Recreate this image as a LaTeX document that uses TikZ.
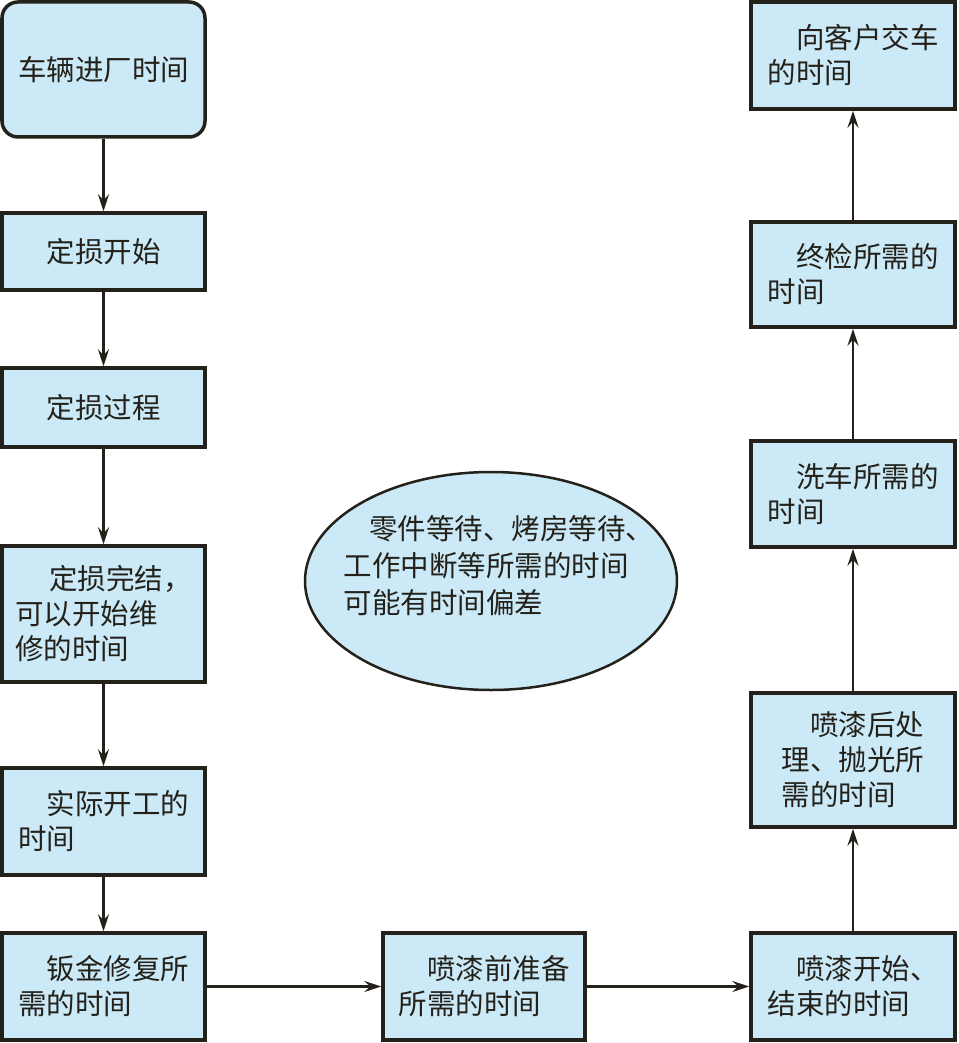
\documentclass[tikz,border=0pt]{standalone}
\usepackage{fontspec}
\newfontfamily\cjk{Noto Sans CJK SC}
\usetikzlibrary{arrows.meta,shapes.geometric}
\definecolor{boxfill}{RGB}{203,233,246}
\definecolor{ink}{RGB}{35,33,25}
\tikzset{
  box/.style={draw=ink,line width=3.5pt,fill=boxfill,rectangle,inner sep=0pt,align=left,
    font=\cjk\fontsize{28.5}{35}\selectfont,text=ink},
  ell/.style={draw=ink,line width=2.5pt,fill=boxfill,ellipse,inner sep=0pt},
  etext/.style={align=left,inner sep=0pt,font=\cjk\fontsize{28.5}{37}\selectfont,text=ink},
  conn/.style={draw=ink,line width=2.4pt,-{Stealth[length=17pt,width=11pt,inset=6pt]}}
}
\begin{document}
\begin{tikzpicture}[x=1pt,y=-1pt]
\useasboundingbox (0,0) rectangle (958,1043);
% left column
\node[box,rounded corners=16pt,minimum width=203pt,minimum height=135pt] (b1) at (103.5,69.5) {车辆进厂时间};
\node[box,minimum width=203pt,minimum height=77pt] (b2) at (103.5,251.5) {定损开始};
\node[box,minimum width=203pt,minimum height=79pt] (b3) at (103.5,407.5) {定损过程};
\node[box,minimum width=203pt,minimum height=136pt] (b4) at (103.5,614) {\hspace*{1.2em}定损完结，\\可以开始维\\修的时间};
\node[box,minimum width=203pt,minimum height=107pt] (b5) at (103.5,821.5) {\hspace*{1em}实际开工的\\时间};
\node[box,minimum width=203pt,minimum height=107pt] (b6) at (103.5,986.5) {\hspace*{1em}钣金修复所\\需的时间};
% middle
\node[box,minimum width=202pt,minimum height=107pt] (m) at (484,986.5) {\hspace*{1em}喷漆前准备\\所需的时间};
% right column
\node[box,minimum width=204pt,minimum height=107pt] (r1) at (853,986.5) {\hspace*{1em}喷漆开始、\\结束的时间};
\node[box,minimum width=204pt,minimum height=134pt] (r2) at (853,760) {\hspace*{1em}喷漆后处\\理、抛光所\\需的时间};
\node[box,minimum width=204pt,minimum height=106pt] (r3) at (853,494) {\hspace*{1em}洗车所需的\\时间};
\node[box,minimum width=204pt,minimum height=105pt] (r4) at (853,274.5) {\hspace*{1em}终检所需的\\时间};
\node[box,minimum width=204pt,minimum height=107pt] (r5) at (853,55.5) {\hspace*{1em}向客户交车\\的时间};
% ellipse
\node[ell,minimum width=372pt,minimum height=218pt] (e) at (491,581) {};
\node[etext] (et) at (499,566) {\hspace*{0.9em}零件等待、烤房等待、\\工作中断等所需的时间\\可能有时间偏差};
% connectors
\draw[conn] (b1) -- (b2);
\draw[conn] (b2) -- (b3);
\draw[conn] (b3) -- (b4);
\draw[conn] (b4) -- (b5);
\draw[conn] (b5) -- (b6);
\draw[conn] (b6) -- (m);
\draw[conn] (m) -- (r1);
\draw[conn] (r1) -- (r2);
\draw[conn] (r2) -- (r3);
\draw[conn] (r3) -- (r4);
\draw[conn] (r4) -- (r5);
\end{tikzpicture}
\end{document}
